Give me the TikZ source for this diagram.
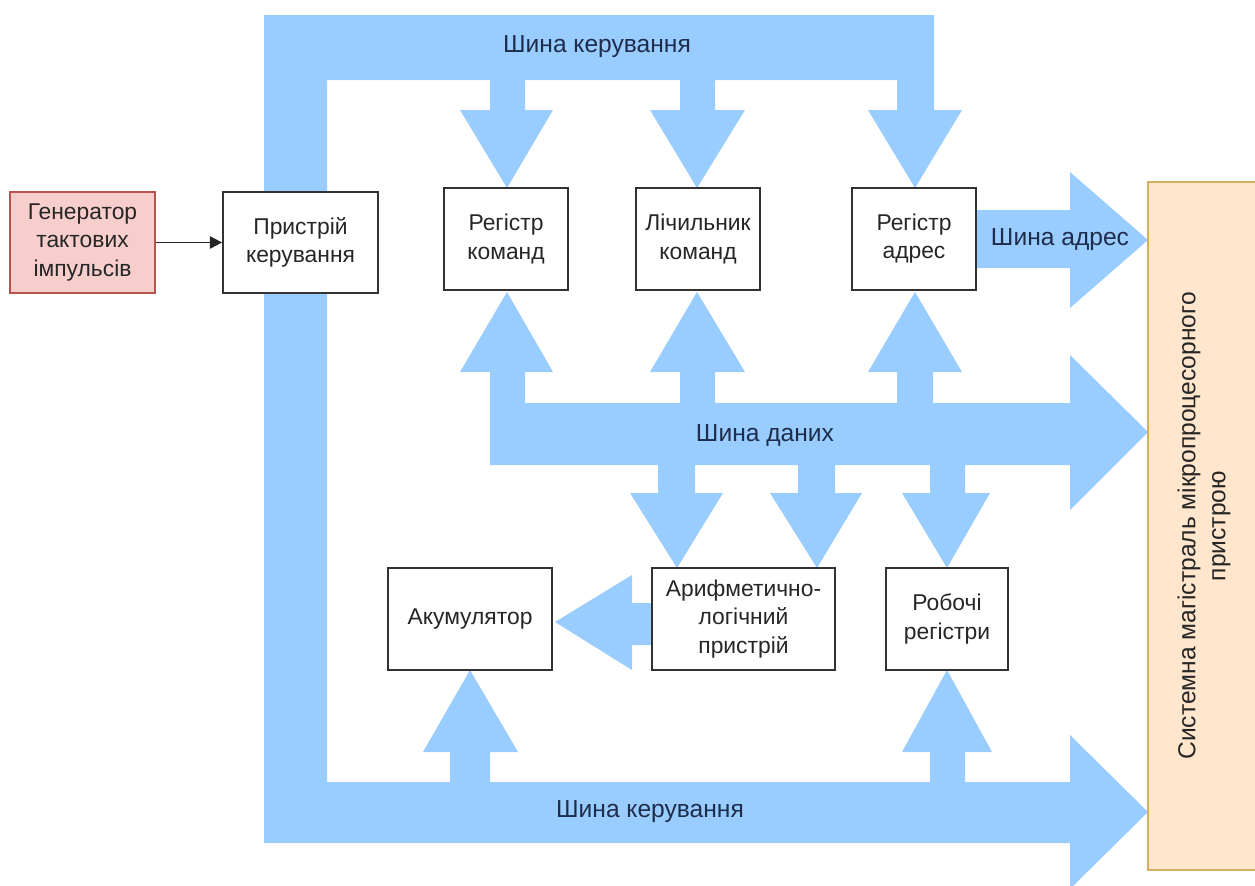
\documentclass[tikz,border=0pt]{standalone}
\usepackage{fontspec}
\setmainfont{Liberation Sans}
\usetikzlibrary{arrows.meta}
\definecolor{busblue}{HTML}{99CCFF}
\definecolor{pinkfill}{HTML}{F8CECC}
\definecolor{pinkline}{HTML}{B85450}
\definecolor{orfill}{HTML}{FFE6CC}
\definecolor{orline}{HTML}{D6B060}
\definecolor{navytext}{HTML}{1F2D4D}

\begin{document}
\begin{tikzpicture}[x=0.02cm, y=-0.02cm,
    blk/.style={draw=black!80, line width=1pt, fill=white, inner sep=0pt, align=center,
        minimum height=2.04cm, text=black!85, font=\fontsize{13}{16}\selectfont},
    bus/.style={fill=busblue},
    buslbl/.style={text=navytext, font=\fontsize{14}{16}\selectfont}]
\useasboundingbox (0,0) rectangle (1255,886);

\fill[bus] (264,843) -- (264,15) -- (934,15) -- (934,110) -- (962,110) -- (915,188) -- (868,110) -- (897,110) -- (897,80)
    -- (715,80) -- (715,110) -- (745,110) -- (697,188) -- (650,110) -- (680,110) -- (680,80)
    -- (525,80) -- (525,110) -- (553,110) -- (507,188) -- (460,110) -- (490,110) -- (490,80)
    -- (327,80) -- (327,782) -- (450,782) -- (450,752) -- (423,752) -- (470,670) -- (518,752) -- (490,752) -- (490,782)
    -- (930,782) -- (930,752) -- (902,752) -- (947,670) -- (992,752) -- (965,752) -- (965,782)
    -- (1070,782) -- (1070,735) -- (1148,812) -- (1070,889) -- (1070,843) -- cycle;
\fill[bus] (490,465) -- (490,372) -- (460,372) -- (507,292) -- (553,372) -- (525,372) -- (525,403)
    -- (680,403) -- (680,372) -- (650,372) -- (697,292) -- (745,372) -- (715,372) -- (715,403)
    -- (897,403) -- (897,372) -- (868,372) -- (915,292) -- (962,372) -- (933,372) -- (933,403)
    -- (1070,403) -- (1070,355) -- (1148,432) -- (1070,510) -- (1070,465)
    -- (965,465) -- (965,493) -- (990,493) -- (947,568) -- (902,493) -- (930,493) -- (930,465)
    -- (835,465) -- (835,493) -- (862,493) -- (817,568) -- (770,493) -- (798,493) -- (798,465)
    -- (695,465) -- (695,493) -- (723,493) -- (677,568) -- (630,493) -- (658,493) -- (658,465) -- cycle;
\fill[bus] (976,210) -- (1070,210) -- (1070,172) -- (1148,240) -- (1070,308) -- (1070,268) -- (976,268) -- cycle;
\fill[bus] (652,603) -- (632,603) -- (632,575) -- (555,622) -- (632,670) -- (632,645) -- (652,645) -- cycle;

\node[blk, draw=pinkline, fill=pinkfill, minimum width=2.9cm, minimum height=2.02cm] (gen) at (82.5,242.5) {Генератор\\тактових\\імпульсів};
\node[blk, minimum width=3.1cm, minimum height=2.02cm] (pk) at (300.5,242.5) {Пристрій\\керування};
\node[blk, minimum width=2.48cm] (rk) at (506,239) {Регістр\\команд};
\node[blk, minimum width=2.48cm] (lk) at (698,239) {Лічильник\\команд};
\node[blk, minimum width=2.48cm] (ra) at (914,239) {Регістр\\адрес};
\node[blk, minimum width=3.28cm] (ak) at (470,619) {Акумулятор};
\node[blk, minimum width=3.66cm] (alu) at (743.5,619) {Арифметично-\\логічний\\пристрій};
\node[blk, minimum width=2.44cm] (rr) at (947,619) {Робочі\\регістри};
\node[blk, draw=orline, fill=orfill, rotate=90, minimum width=13.76cm, minimum height=2.24cm,
    font=\fontsize{14}{17}\selectfont] (sm) at (1204,526)
    {Системна магістраль мікропроцесорного\\пристрою};

\draw[-{Triangle[length=7pt,width=7pt]}, line width=1.1pt, black!85] (gen) -- (pk);

\node[buslbl] (kb1) at (597,47) {Шина керування};
\node[buslbl] (ab) at (1060,240) {Шина адрес};
\node[buslbl] (db) at (765,435) {Шина даних};
\node[buslbl] (kb2) at (650,812) {Шина керування};
\end{tikzpicture}
\end{document}
